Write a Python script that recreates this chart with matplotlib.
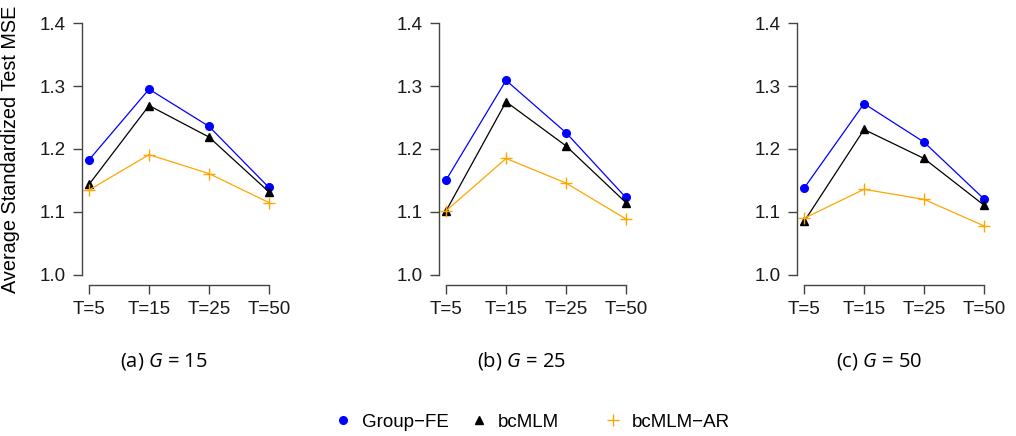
import numpy as np
import matplotlib
matplotlib.use("Agg")
import matplotlib.pyplot as plt
from matplotlib.lines import Line2D

plt.rcParams['font.family'] = ['Liberation Sans', 'DejaVu Sans']
plt.rcParams['mathtext.fontset'] = 'custom'
plt.rcParams['mathtext.it'] = 'Open Sans:italic'
plt.rcParams['mathtext.rm'] = 'Open Sans'

t_labels = ["T=5", "T=15", "T=25", "T=50"]
captions = ["(a) $G$ = 15", "(b) $G$ = 25", "(c) $G$ = 50"]
series_names = ["Group\u2212FE", "bcMLM", "bcMLM\u2212AR"]

group_fe = [[1.183, 1.295, 1.236, 1.139],
            [1.151, 1.309, 1.226, 1.123],
            [1.138, 1.272, 1.211, 1.121]]
bcmlm = [[1.144, 1.269, 1.219, 1.132],
         [1.102, 1.275, 1.205, 1.115],
         [1.085, 1.231, 1.185, 1.111]]
bcmlm_ar = [[1.135, 1.191, 1.161, 1.115],
            [1.102, 1.185, 1.146, 1.089],
            [1.090, 1.136, 1.120, 1.078]]

styles = [dict(color='blue', marker='o', ms=5.5),
          dict(color='black', marker='^', ms=6),
          dict(color='orange', marker='+', ms=9, mew=1.0)]

fig = plt.figure(figsize=(10.16, 4.36), dpi=100)
lefts = [82, 439, 797]
x = np.arange(1, 5)
for i in range(3):
    ax = fig.add_axes([lefts[i] / 1016, 151 / 436, 194 / 1016, 272 / 436])
    for vals, st in zip([group_fe[i], bcmlm[i], bcmlm_ar[i]], styles):
        ax.plot(x, vals, lw=0.9, **st)
    ax.set_xlim(0.88, 4.12)
    ax.set_ylim(0.984, 1.416)
    ax.set_xticks(x)
    ax.set_xticklabels(t_labels, fontsize=13.5)
    ax.set_yticks([1.0, 1.1, 1.2, 1.3, 1.4])
    ax.set_yticklabels(["1.0", "1.1", "1.2", "1.3", "1.4"], fontsize=13.5)
    for s in ['top', 'right']:
        ax.spines[s].set_visible(False)
    ax.spines['left'].set_bounds(1.0, 1.4)
    ax.spines['bottom'].set_bounds(1, 4)
    for s in ['left', 'bottom']:
        ax.spines[s].set_color('#444444')
        ax.spines[s].set_linewidth(1.0)
    ax.tick_params(length=6.5, width=1.0, color='#444444', labelcolor='#1a1a1a')
    ax.tick_params(axis='x', pad=5)
    ax.tick_params(axis='y', pad=5)
    if i == 0:
        ax.set_ylabel("Average Standardized Test MSE", fontsize=14.3)
        ax.yaxis.set_label_coords(-0.32, 0.5)
    fig.text((lefts[i] + 82) / 1016, 1 - 361 / 436, captions[i], ha='center', va='center',
             fontsize=14.5, family='Open Sans')

# legend: equal spacing between keys, as in the original
key_x = [343, 479, 613]
for kx, name, st in zip(key_x, series_names, styles):
    h = Line2D([], [], ls='none', **st)
    fig.legend([h], [name], loc='center left',
               bbox_to_anchor=((kx - 9.4) / 1016, 1 - 422 / 436),
               frameon=False, fontsize=13.5, handlelength=1.0,
               handletextpad=0.5, borderpad=0, borderaxespad=0)

fig.savefig("out.png", dpi=100)
